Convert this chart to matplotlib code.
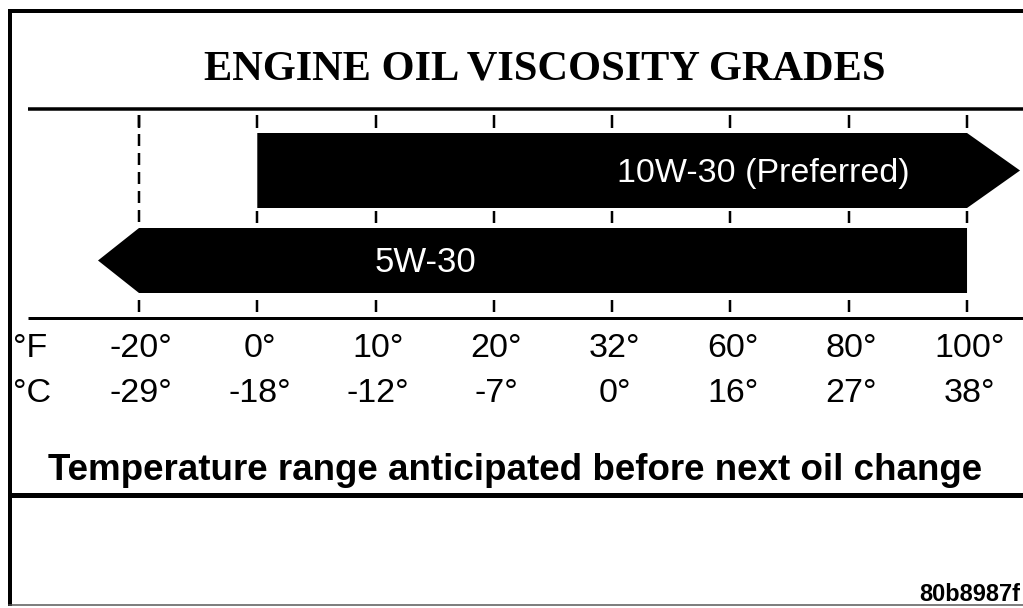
import numpy as np
import matplotlib
matplotlib.use('Agg')
import matplotlib.pyplot as plt

# temperature scale (columns of the chart)
temps_f = ['-20°', '0°', '10°', '20°', '32°', '60°', '80°', '100°']
temps_c = ['-29°', '-18°', '-12°', '-7°', '0°', '16°', '27°', '38°']

# oil grades: range in °F and which end is open (arrow)
grades = ['10W-30 (Preferred)', '5W-30']
grade_lo = ['0°', '-20°']
grade_hi = ['100°', '100°']
grade_arrow = ['right', 'left']

title = 'ENGINE OIL VISCOSITY GRADES'
caption = 'Temperature range anticipated before next oil change'
code = '80b8987f'

W, H = 1023, 608
col0, colstep = 139, 118.29   # pixel position of first column and spacing

fig = plt.figure(figsize=(W / 100, H / 100), dpi=100)
ax = fig.add_axes([0, 0, 1, 1])
ax.set_xlim(-col0 / colstep, (W - col0) / colstep)
ax.set_ylim(H, 0)
ax.axis('off')

def px(x):
    # pixel x -> column units
    return (x - col0) / colstep

pt = 0.72  # one pixel in points

# frame
ax.plot([px(9), px(W)], [11, 11], color='black', lw=4 * pt, solid_capstyle='butt')
ax.plot([px(10), px(10)], [9, 606], color='black', lw=4 * pt, solid_capstyle='butt')
ax.plot([px(9), px(W)], [605, 605], color='#555555', lw=1.5 * pt)

# title and its rule
ax.text(545 / W, 1 - 79 / H, title, transform=ax.transAxes, ha='center', va='baseline',
        family='Liberation Serif', weight='bold', fontsize=30.5)
ax.plot([px(28), px(W)], [109, 109], color='black', lw=3.5 * pt, solid_capstyle='butt')

# bars
bar_top = [133, 228]
bar_bot = [208, 293]
tip_len = [53, 41]
cols = np.arange(len(temps_f))
for i, g in enumerate(grades):
    x0 = temps_f.index(grade_lo[i])
    x1 = temps_f.index(grade_hi[i])
    t, b = bar_top[i], bar_bot[i]
    m = (t + b) / 2
    tip = tip_len[i] / colstep
    if grade_arrow[i] == 'right':
        xs = [x0, x1, x1 + tip, x1, x0]
        ys = [t, t, m, b, b]
    else:
        xs = [x0 - tip, x0, x1, x1, x0]
        ys = [m, t, t, b, b]
    ax.fill(xs, ys, color='black', lw=0, zorder=3)

ax.text(px(763), 182, grades[0], color='white', ha='center', va='baseline',
        family='Liberation Sans', fontsize=24.5, zorder=4)
ax.text(px(425), 272, grades[1], color='white', ha='center', va='baseline',
        family='Liberation Sans', fontsize=25, zorder=4)

# ticks and guide lines
first_top = temps_f.index(grade_lo[0])
for c in cols:
    ax.plot([c, c], [115, 128], color='black', lw=2.5 * pt, solid_capstyle='butt')
    ax.plot([c, c], [300, 312], color='black', lw=2.5 * pt, solid_capstyle='butt')
    if c >= first_top:
        ax.plot([c, c], [211, 223], color='black', lw=2.5 * pt, solid_capstyle='butt')
    else:
        ax.plot([c, c], [115, 228], color='black', lw=2.5 * pt,
                linestyle=(0, (12 / 2.5, 7 / 2.5)), dash_capstyle='butt')

ax.plot([px(28), px(W)], [318, 318], color='black', lw=3 * pt, solid_capstyle='butt')

# temperature labels
ax.text(px(13), 357, '°F', ha='left', va='baseline', family='Liberation Sans', fontsize=24.5)
ax.text(px(13), 402, '°C', ha='left', va='baseline', family='Liberation Sans', fontsize=24.5)
for c in cols:
    ax.text(c + 0.02, 357, temps_f[c], ha='center', va='baseline',
            family='Liberation Sans', fontsize=24.5)
    ax.text(c + 0.02, 402, temps_c[c], ha='center', va='baseline',
            family='Liberation Sans', fontsize=24.5)

# caption and rule
ax.text(515 / W, 1 - 480 / H, caption, transform=ax.transAxes, ha='center', va='baseline',
        family='Liberation Sans', weight='bold', fontsize=26.5)
ax.plot([px(9), px(W)], [495, 495], color='black', lw=5 * pt, solid_capstyle='butt')

ax.text(1020 / W, 1 - 601 / H, code, transform=ax.transAxes, ha='right', va='baseline',
        family='Liberation Sans', weight='bold', fontsize=17)

fig.savefig('out.png', dpi=100)
